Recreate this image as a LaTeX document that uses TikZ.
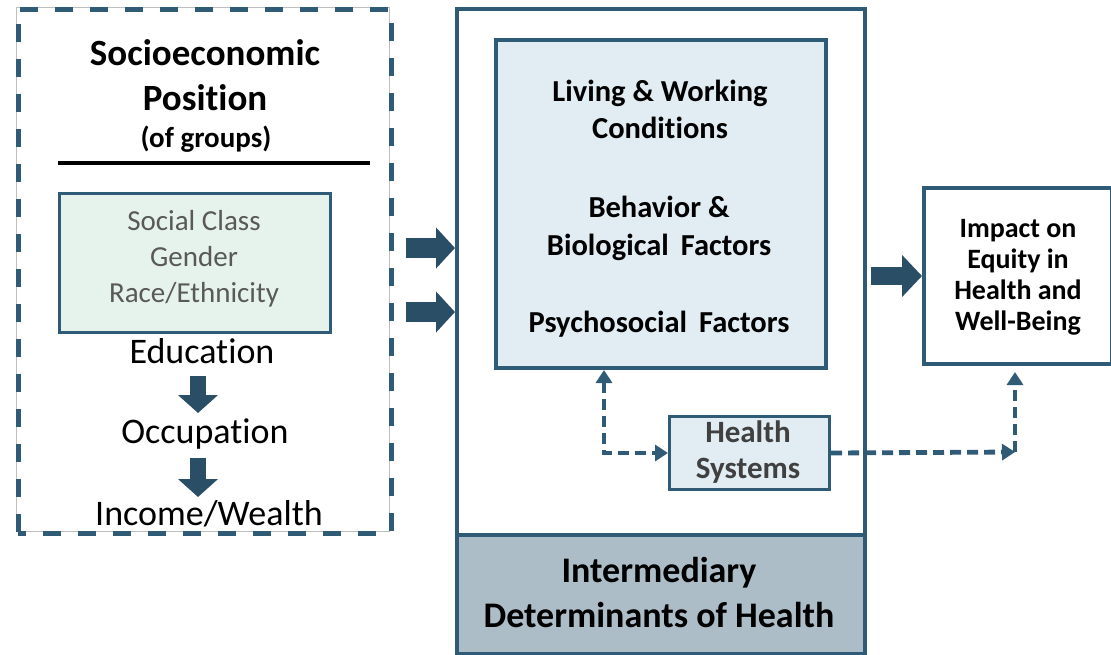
\documentclass[tikz,border=0pt]{standalone}
\usepackage{fontspec}
\setmainfont{Carlito}[Ligatures=NoCommon]
\usetikzlibrary{arrows.meta}
\definecolor{bord}{HTML}{2F5B77}
\definecolor{arr}{HTML}{2A4E65}
\definecolor{lblue}{HTML}{E1ECF3}
\definecolor{lgreen}{HTML}{E6F3EC}
\definecolor{gbox}{HTML}{ADBDC8}
\definecolor{txtgray}{HTML}{595959}
\definecolor{hsgray}{HTML}{404040}
\tikzset{
  box/.style={draw=bord, line width=3.5pt, anchor=north west, inner sep=0pt},
  txt/.style={anchor=base, align=center, inner sep=0pt},
  bigarrow/.style={draw=arr, line width=20pt, -{Triangle[length=19pt,width=40pt]}, fill=arr},
  downarrow/.style={draw=arr, line width=16pt, -{Triangle[length=18pt,width=39pt]}, fill=arr},
  dconn/.style={draw=bord, line width=4.8pt, dash pattern=on 11pt off 6pt},
  dtip/.style={-{Triangle[length=13pt,width=16pt]}},
}
\begin{document}
\begin{tikzpicture}[x=1pt,y=-1pt]
\useasboundingbox (0,0) rectangle (1111,654);
% Socioeconomic position box (dashed)
\draw[gray!50, line width=0.8pt] (16,7) rectangle (389,531);
\node[draw=bord, line width=4.5pt, dash pattern=on 18pt off 17pt, dash phase=10pt,
      anchor=north west, minimum width=373pt, minimum height=524pt, inner sep=0pt] (sep) at (16,7) {};
\node[txt, font=\fontsize{37}{45}\selectfont\bfseries] (title) at (205,110) {Socioeconomic\\Position};
\node[txt, font=\fontsize{29}{36}\selectfont\bfseries] (sub) at (206,147) {(of groups)};
\draw[black, line width=4.5pt] (58,163) coordinate (rl) -- (370,163) coordinate (rr);
\node[box, line width=3pt, fill=lgreen, minimum width=271pt, minimum height=139pt] (sc) at (58,192) {};
\node[txt, text=txtgray, font=\fontsize{29}{36}\selectfont] (sctext) at (194,302) {Social Class\\Gender\\Race/Ethnicity};
\node[txt, font=\fontsize{36}{44}\selectfont] (edu) at (202,363) {Education};
\node[txt, font=\fontsize{36}{44}\selectfont] (occ) at (205,443) {Occupation};
\node[txt, font=\fontsize{36}{44}\selectfont] (inc) at (209,525) {Income/Wealth};
\coordinate (e1) at (198,376); \coordinate (e2) at (198,413);
\coordinate (o1) at (198,458); \coordinate (o2) at (198,497);
\draw[downarrow] (e1) -- (e2);
\draw[downarrow] (o1) -- (o2);
% Intermediary determinants
\node[box, fill=gbox, minimum width=408pt, minimum height=119pt] (gray) at (455,533) {};
\node[box, minimum width=408pt, minimum height=645pt] (mid) at (455,7) {};
\node[txt, font=\fontsize{36}{45}\selectfont\bfseries] (inter) at (659,627) {Intermediary\\Determinants of Health};
\node[box, fill=lblue, minimum width=330pt, minimum height=328pt] (inner) at (494,38) {};
\node[txt, font=\fontsize{30.5}{37}\selectfont\bfseries] (lw) at (660,138) {Living \& Working\\Conditions};
\node[txt, font=\fontsize{30.5}{38}\selectfont\bfseries] (beh) at (659,255) {Behavior \&\\Biological\ \,Factors};
\node[txt, font=\fontsize{30.5}{38}\selectfont\bfseries] (psy) at (659,332) {Psychosocial\ \,Factors};
\node[box, line width=3pt, fill=lblue, minimum width=160pt, minimum height=73pt] (hs) at (668,415) {};
\node[txt, text=hsgray, font=\fontsize{31}{36}\selectfont\bfseries] (hstext) at (748,478) {Health\\Systems};
% Impact
\node[box, minimum width=188pt, minimum height=176pt] (imp) at (922,186) {};
\node[txt, font=\fontsize{28}{31}\selectfont\bfseries] (imptext) at (1018,330) {Impact on\\Equity in\\Health and\\Well-Being};
% big arrows
\coordinate (a1s) at (406,248); \coordinate (a2s) at (406,312);
\draw[bigarrow] (a1s) -- (a1s -| mid.west);
\draw[bigarrow] (a2s) -- (a2s -| mid.west);
\coordinate (a3s) at (871,276);
\draw[draw=arr, line width=18pt, -{Triangle[length=20pt,width=41pt]}] (a3s) -- (a3s -| imp.west);
% dashed connectors
\coordinate (up1) at (604,370);
\coordinate (c2) at (1015,452);
\coordinate (up2) at (1015,372);
\draw[dconn, {Triangle[length=13pt,width=16pt]}-{Triangle[length=13pt,width=16pt]}] (up1) |- (hs.west);
\draw[dconn, dtip] (hs.east) -- (c2);
\draw[dconn, dtip] (c2) -- (up2);
\end{tikzpicture}
\end{document}
